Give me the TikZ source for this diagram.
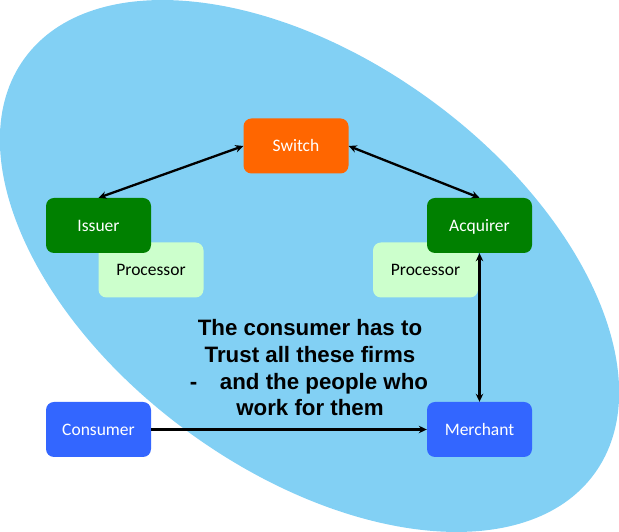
\documentclass[tikz,border=0pt]{standalone}
\usepackage{fontspec}
\setmainfont{Carlito}
\newfontfamily\boldsans{Liberation Sans}
\usetikzlibrary{arrows.meta}
\definecolor{bubble}{RGB}{130,208,244}
\definecolor{switchor}{RGB}{255,102,0}
\definecolor{dkgreen}{RGB}{0,128,0}
\definecolor{ltgreen}{RGB}{204,255,204}
\definecolor{bluebox}{RGB}{51,102,255}
\begin{document}
\begin{tikzpicture}[x=1pt,y=1pt,
  box/.style={rounded corners=8pt, minimum width=105pt, minimum height=55pt,
    inner sep=0pt, text height=11.5pt, text depth=0pt,
    font=\fontsize{17.5}{20}\selectfont},
  switchbox/.style={box, fill=switchor, text=white},
  bankbox/.style={box, fill=dkgreen, text=white},
  procbox/.style={box, fill=ltgreen, text=black},
  partybox/.style={box, fill=bluebox, text=white},
  twoway/.style={line width=2.3pt, {Stealth[length=8pt,width=7.5pt]}-{Stealth[length=8pt,width=7.5pt]}},
  oneway/.style={line width=2.3pt, -{Stealth[length=8pt,width=7.5pt]}},
  msg/.style={anchor=base, inner sep=0pt, font=\fontsize{22.3}{26.7}\selectfont\boldsans\bfseries}
]
\useasboundingbox (0,0) rectangle (619,532);
\fill[bubble, rotate around={-36.1:(309.5,266)}] (309.5,266) ellipse [x radius=352.6pt, y radius=205.5pt];

\node[switchbox] (switch) at (296,386) {Switch};
\node[procbox] (procl) at (151,262) {Processor};
\node[bankbox] (issuer) at (98.5,306.5) {Issuer};
\node[procbox] (procr) at (425.5,262) {Processor};
\node[bankbox] (acquirer) at (479.5,306.5) {Acquirer};
\node[partybox] (consumer) at (98.5,102.5) {Consumer};
\node[partybox] (merchant) at (479.5,102.5) {Merchant};

\draw[twoway] (issuer.north) -- (switch.west);
\draw[twoway] (switch.east) -- (acquirer.north);
\draw[twoway] (acquirer.south) -- (merchant.north);
\draw[oneway] (consumer.east) -- (merchant.west);

\node[msg] (t1) at (310,196) {The consumer has to};
\node[msg] (t2) at (310,169.3) {Trust all these firms};
\node[msg] (t3) at (309,142.6) {-\hspace{22.6pt}and the people who};
\node[msg] (t4) at (310,116) {work for them};
\end{tikzpicture}
\end{document}
